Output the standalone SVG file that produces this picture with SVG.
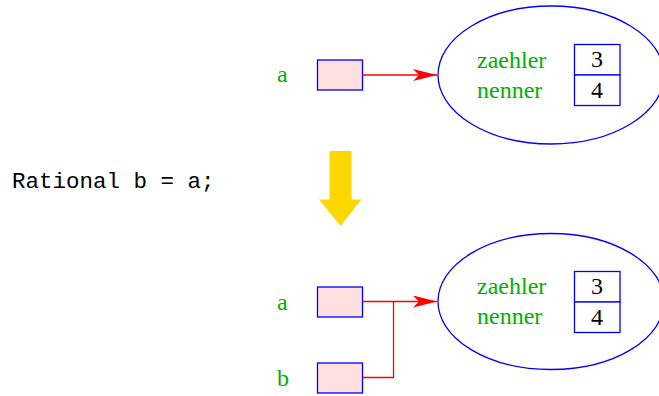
<svg xmlns="http://www.w3.org/2000/svg" width="659" height="396" viewBox="0 0 659 396">
<style>
.lbl{font-family:"Liberation Serif",serif;font-size:24px;fill:#00b000}
.num{font-family:"Liberation Serif",serif;font-size:24px;fill:#000;text-anchor:middle}
.ptr{fill:#ffe0e0;stroke:#0000ff;stroke-width:1.3}
.cell{fill:#fff;stroke:#0000ff;stroke-width:1.3}
.obj{fill:none;stroke:#0000ff;stroke-width:1.3}
.con{fill:none;stroke:#ff0000;stroke-width:1.3}
.code{font-family:"Liberation Mono",monospace;font-size:22.5px;fill:#000}
</style>
<defs>
<marker id="ah" markerWidth="24" markerHeight="12" viewBox="0 0 24 12" refX="24" refY="6" orient="auto" markerUnits="userSpaceOnUse">
<path d="M0,0 L24,6 L0,12 L6,6 Z" fill="#ff0000"/>
</marker>
</defs>
<rect width="659" height="396" fill="#fff"/>
<g id="code"><text class="code" x="12" y="188">Rational b = a;</text></g>
<g id="transition"><polygon points="329.5,151 351.5,151 351.5,199.5 361.5,199.5 340.5,226 319,199.5 329.5,199.5" fill="#ffd700"/></g>
<g id="top-a">
<text class="lbl" x="277" y="82">a</text>
<rect class="ptr" x="317.5" y="60" width="45" height="30"/>
</g>
<g id="top-object">
<ellipse class="obj" cx="551" cy="75" rx="113" ry="69"/>
<text class="lbl" x="477" y="68">zaehler</text>
<text class="lbl" x="477" y="98">nenner</text>
<rect class="cell" x="574.5" y="44.5" width="45.5" height="30.5"/>
<rect class="cell" x="574.5" y="75" width="45.5" height="30.5"/>
<text class="num" x="597" y="67">3</text>
<text class="num" x="597" y="98">4</text>
</g>
<g id="bottom-a">
<text class="lbl" x="277" y="310">a</text>
<rect class="ptr" x="317.5" y="287" width="45" height="30"/>
</g>
<g id="bottom-b">
<text class="lbl" x="277" y="386">b</text>
<rect class="ptr" x="317.5" y="363" width="45" height="30"/>
</g>
<g id="bottom-object">
<ellipse class="obj" cx="551" cy="301.5" rx="113" ry="68"/>
<text class="lbl" x="477" y="294">zaehler</text>
<text class="lbl" x="477" y="324">nenner</text>
<rect class="cell" x="574.5" y="271.5" width="45.5" height="30.5"/>
<rect class="cell" x="574.5" y="302" width="45.5" height="30.5"/>
<text class="num" x="597" y="294">3</text>
<text class="num" x="597" y="325">4</text>
</g>
<g id="connectors">
<line class="con" x1="362.5" y1="75" x2="437" y2="75" marker-end="url(#ah)"/>
<line class="con" x1="362.5" y1="301.5" x2="437" y2="301.5" marker-end="url(#ah)"/>
<polyline class="con" points="362.5,377.5 393.5,377.5 393.5,301.5"/>
</g>
</svg>
